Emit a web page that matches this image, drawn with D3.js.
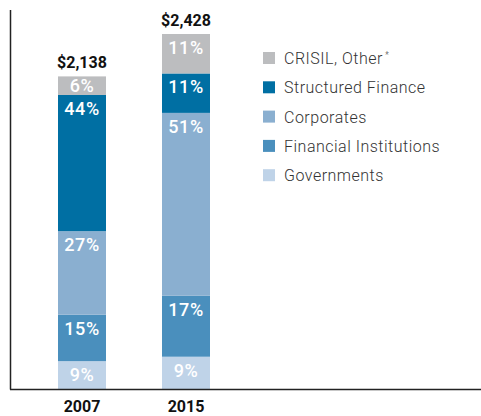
<!DOCTYPE html>
<html>
<head>
<meta charset="utf-8">
<script src="https://cdn.jsdelivr.net/npm/d3@7"></script>
<style>
  body { margin: 0; background: #fff; }
  svg { display: block; }
</style>
</head>
<body>
<div class="chart"></div>
<script>
// data, bottom segment first
var years = ["2007", "2015"];
var totals = [2138, 2428];
var totalLabels = ["$2,138", "$2,428"];
var segments = ["Governments", "Financial Institutions", "Corporates", "Structured Finance", "CRISIL, Other"];
var shares2007 = [9, 15, 27, 44, 6];
var shares2015 = [9, 17, 51, 11, 11];
var colors = ["#bfd3e8", "#4a8fbd", "#8aafd0", "#006fa3", "#bcbdbf"];

var width = 481, height = 416;
var svg = d3.select(".chart").append("svg")
    .attr("width", width)
    .attr("height", height);

var x = d3.scaleBand()
    .domain(years)
    .range([58, 210])
    .paddingInner(0.5385)
    .paddingOuter(0);
var y = d3.scaleLinear()
    .domain([0, d3.max(totals)])
    .range([389, 34]);

// build rows for d3.stack, shares scaled so that each bar ends at its total
var allShares = [shares2007, shares2015];
var rows = years.map(function(yr, i) {
    var row = { year: yr, total: totals[i] };
    var sum = d3.sum(allShares[i]);
    segments.forEach(function(s, j) {
        row[s] = allShares[i][j] / sum * totals[i];
        row[s + "_pct"] = allShares[i][j];
    });
    return row;
});

var stacked = d3.stack().keys(segments)(rows);

var layer = svg.selectAll(".layer")
    .data(stacked)
    .enter().append("g")
    .attr("class", "layer")
    .attr("fill", function(d, i) { return colors[i]; });

layer.selectAll("rect")
    .data(function(d) { return d; })
    .enter().append("rect")
    .attr("x", function(d) { return x(d.data.year); })
    .attr("width", x.bandwidth())
    .attr("y", function(d) { return y(d[1]); })
    .attr("height", function(d) { return y(d[0]) - y(d[1]); });

// percentage labels
stacked.forEach(function(s) {
    svg.selectAll(null)
        .data(s)
        .enter().append("text")
        .attr("x", function(d) { return x(d.data.year) + x.bandwidth() / 2; })
        .attr("y", function(d) {
            var top = y(d[1]), bot = y(d[0]);
            return Math.min(top + 20, (top + bot) / 2 + 6.5);
        })
        .attr("text-anchor", "middle")
        .attr("fill", "#fff")
        .style("font-family", "Roboto, sans-serif")
        .style("font-weight", 500)
        .style("font-size", "18px")
        .style("letter-spacing", "0.6px")
        .text(function(d) { return d.data[s.key + "_pct"] + "%"; });
});

// totals above bars
svg.selectAll(".total")
    .data(rows)
    .enter().append("text")
    .attr("class", "total")
    .attr("x", function(d) { return x(d.year) + x.bandwidth() / 2; })
    .attr("y", function(d) { return y(d.total) - 8.5; })
    .attr("text-anchor", "middle")
    .attr("fill", "#111")
    .style("font-family", "Roboto, sans-serif")
    .style("font-weight", 700)
    .style("font-size", "16px")
    .text(function(d, i) { return totalLabels[i]; });

// axes lines
svg.append("line")
    .attr("x1", 10.5).attr("x2", 10.5)
    .attr("y1", 10).attr("y2", 389.5)
    .attr("stroke", "#222").attr("stroke-width", 1.5);
svg.append("line")
    .attr("x1", 10).attr("x2", width)
    .attr("y1", 389.5).attr("y2", 389.5)
    .attr("stroke", "#222").attr("stroke-width", 1.5);

// year labels
svg.selectAll(".year")
    .data(years)
    .enter().append("text")
    .attr("class", "year")
    .attr("x", function(d) { return x(d) + x.bandwidth() / 2; })
    .attr("y", 411.5)
    .attr("text-anchor", "middle")
    .attr("fill", "#111")
    .style("font-family", "Roboto, sans-serif")
    .style("font-weight", 700)
    .style("font-size", "16px")
    .text(function(d) { return d; });

// legend, top entry is the top segment
var legendKeys = segments.slice().reverse();
var legendColors = colors.slice().reverse();
var legend = svg.selectAll(".legend")
    .data(legendKeys)
    .enter().append("g")
    .attr("class", "legend")
    .attr("transform", function(d, i) { return "translate(263," + (52 + i * 29.3) + ")"; });

legend.append("rect")
    .attr("width", 12)
    .attr("height", 12)
    .attr("fill", function(d, i) { return legendColors[i]; });

var ltext = legend.append("text")
    .attr("x", 21)
    .attr("y", 12)
    .attr("fill", "#333")
    .style("font-family", "Roboto, sans-serif")
    .style("font-weight", 300)
    .style("font-size", "16px")
    .style("letter-spacing", "0.5px")
    .text(function(d) { return d; });

ltext.filter(function(d, i) { return i == 0; })
    .append("tspan")
    .attr("dx", 2)
    .attr("dy", -6)
    .style("font-size", "9px")
    .text("*");
</script>
</body>
</html>
